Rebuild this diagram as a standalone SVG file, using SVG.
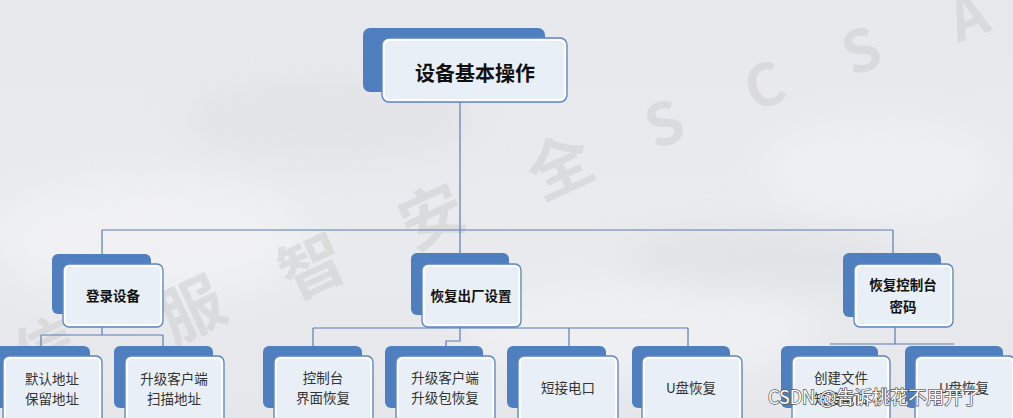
<svg xmlns="http://www.w3.org/2000/svg" width="1013" height="418" viewBox="0 0 1013 418">
  <defs>
    <linearGradient id="bg" x1="0" y1="0" x2="0" y2="1">
      <stop offset="0" stop-color="#e7e8eb"/>
      <stop offset="0.5" stop-color="#eaebee"/>
      <stop offset="1" stop-color="#e5e7ea"/>
    </linearGradient>
    <filter id="blur" x="-50%" y="-50%" width="200%" height="200%">
      <feGaussianBlur stdDeviation="18"/>
    </filter>
    <style>
      .back { fill: #4f7fbf; }
      .front { fill: #e9eff7; stroke: #5b85c2; stroke-width: 1.3; }
      .inner { fill: none; stroke: #ffffff; stroke-width: 2; opacity: 0.9; }
      .conn { fill: none; stroke: #5b7db5; stroke-width: 1.2; }
      .t0 { font-family: "Noto Sans CJK SC", "Noto Sans", sans-serif; font-size: 20px; font-weight: bold; fill: #111; text-anchor: middle; dominant-baseline: central; }
      .t1 { font-family: "Noto Sans CJK SC", "Noto Sans", sans-serif; font-size: 13.5px; font-weight: bold; fill: #111; text-anchor: middle; dominant-baseline: central; }
      .t2 { font-family: "Noto Sans CJK SC", "Noto Sans", sans-serif; font-size: 13.5px; fill: #333; text-anchor: middle; dominant-baseline: central; }
      .wm { font-family: "Noto Sans CJK SC", "Noto Sans", sans-serif; font-weight: bold; fill: #cfcfcf; opacity: 0.55; text-anchor: middle; dominant-baseline: central; }
      .csdn { font-family: "Noto Sans CJK SC", "Noto Sans", sans-serif; font-size: 18px; fill: #ffffff; stroke: #555; stroke-width: 1.4; paint-order: stroke; }
    </style>
  </defs>

  <!-- background -->
  <rect x="0" y="0" width="1013" height="418" fill="url(#bg)"/>
  <g filter="url(#blur)" opacity="0.6">
    <ellipse cx="150" cy="240" rx="160" ry="60" fill="#f5f5f7"/>
    <ellipse cx="640" cy="330" rx="180" ry="50" fill="#f3f4f6"/>
    <ellipse cx="880" cy="170" rx="120" ry="50" fill="#f2f3f6"/>
    <ellipse cx="330" cy="120" rx="150" ry="40" fill="#dfe0e4"/>
    <ellipse cx="760" cy="260" rx="140" ry="30" fill="#dcdee2"/>
  </g>

  <!-- watermark -->
  <g id="watermark">
    <text class="wm" font-size="64" transform="translate(45,345) rotate(-25)">信</text>
    <text class="wm" font-size="64" transform="translate(190,305) rotate(-25)">服</text>
    <text class="wm" font-size="64" transform="translate(310,262) rotate(-25)">智</text>
    <text class="wm" font-size="64" transform="translate(430,212) rotate(-25)">安</text>
    <text class="wm" font-size="64" transform="translate(558,162) rotate(-25)">全</text>
    <text class="wm" font-size="58" transform="translate(663,120) rotate(-20)">S</text>
    <text class="wm" font-size="58" transform="translate(763,82) rotate(-20)">C</text>
    <text class="wm" font-size="58" transform="translate(860,47) rotate(-20)">S</text>
    <text class="wm" font-size="58" transform="translate(967,13) rotate(-20)">A</text>
  </g>

  <!-- connectors -->
  <g id="connectors">
    <path class="conn" d="M460 102 V230 M102 230 H893 M102 230 V254 M460 230 V253 M893 230 V253"/>
    <path class="conn" d="M102 327 V335 M41 335 H163 M41 335 V346 M163 335 V346"/>
    <path class="conn" d="M460 327 V341 H446 V346 M313 328 H460 M313 328 V346 M460 328 H688 M569 328 V346 M688 328 V346"/>
    <path class="conn" d="M895 327 V344 M830 344 H954"/>
  </g>

  <!-- root -->
  <g id="n-root">
    <rect class="back" x="363" y="28" width="182" height="64" rx="7"/>
    <rect class="front" x="382" y="38" width="185" height="64" rx="7"/>
    <rect class="inner" x="384" y="40" width="181" height="60" rx="6"/>
    <text class="t0" x="475" y="72">设备基本操作</text>
  </g>

  <!-- level 1 -->
  <g id="n-login">
    <rect class="back" x="52" y="254" width="99" height="60" rx="6"/>
    <rect class="front" x="63" y="264" width="100" height="63" rx="6"/>
    <rect class="inner" x="65" y="266" width="96" height="59" rx="5"/>
    <text class="t1" x="113" y="295">登录设备</text>
  </g>
  <g id="n-factory">
    <rect class="back" x="411" y="253" width="98" height="62" rx="6"/>
    <rect class="front" x="422" y="264" width="99" height="63" rx="6"/>
    <rect class="inner" x="424" y="266" width="95" height="59" rx="5"/>
    <text class="t1" x="471" y="295">恢复出厂设置</text>
  </g>
  <g id="n-console-pwd">
    <rect class="back" x="843" y="253" width="98" height="64" rx="6"/>
    <rect class="front" x="854" y="264" width="99" height="63" rx="6"/>
    <rect class="inner" x="856" y="266" width="95" height="59" rx="5"/>
    <text class="t1" x="903" y="284" font-size="14">恢复控制台</text>
    <text class="t1" x="903" y="306" font-size="14">密码</text>
  </g>

  <!-- level 2 -->
  <g id="n-default-addr">
    <rect class="back" x="-9" y="346" width="99" height="62" rx="6"/>
    <rect class="front" x="3" y="356" width="99" height="68" rx="6"/>
    <rect class="inner" x="5" y="358" width="95" height="64" rx="5"/>
    <text class="t2" x="52" y="378">默认地址</text>
    <text class="t2" x="52" y="398">保留地址</text>
  </g>
  <g id="n-scan-addr">
    <rect class="back" x="114" y="346" width="99" height="62" rx="6"/>
    <rect class="front" x="125" y="356" width="99" height="68" rx="6"/>
    <rect class="inner" x="127" y="358" width="95" height="64" rx="5"/>
    <text class="t2" x="174" y="378">升级客户端</text>
    <text class="t2" x="174" y="398">扫描地址</text>
  </g>
  <g id="n-console-reset">
    <rect class="back" x="263" y="346" width="99" height="62" rx="6"/>
    <rect class="front" x="274" y="356" width="99" height="68" rx="6"/>
    <rect class="inner" x="276" y="358" width="95" height="64" rx="5"/>
    <text class="t2" x="323" y="377">控制台</text>
    <text class="t2" x="323" y="397">界面恢复</text>
  </g>
  <g id="n-pkg-reset">
    <rect class="back" x="385" y="346" width="98" height="62" rx="6"/>
    <rect class="front" x="396" y="356" width="99" height="68" rx="6"/>
    <rect class="inner" x="398" y="358" width="95" height="64" rx="5"/>
    <text class="t2" x="445" y="377">升级客户端</text>
    <text class="t2" x="445" y="397">升级包恢复</text>
  </g>
  <g id="n-short-port">
    <rect class="back" x="507" y="346" width="99" height="62" rx="6"/>
    <rect class="front" x="518" y="356" width="100" height="68" rx="6"/>
    <rect class="inner" x="520" y="358" width="96" height="64" rx="5"/>
    <text class="t2" x="568" y="387">短接电口</text>
  </g>
  <g id="n-usb-reset">
    <rect class="back" x="632" y="346" width="98" height="62" rx="6"/>
    <rect class="front" x="642" y="356" width="100" height="68" rx="6"/>
    <rect class="inner" x="644" y="358" width="96" height="64" rx="5"/>
    <text class="t2" x="691" y="387">U盘恢复</text>
  </g>
  <g id="n-create-file">
    <rect class="back" x="781" y="346" width="97" height="62" rx="6"/>
    <rect class="front" x="792" y="356" width="98" height="68" rx="6"/>
    <rect class="inner" x="794" y="358" width="94" height="64" rx="5"/>
    <text class="t2" x="841" y="377">创建文件</text>
    <text class="t2" x="841" y="398">短接电口</text>
  </g>
  <g id="n-usb-reset-2">
    <rect class="back" x="905" y="346" width="98" height="62" rx="6"/>
    <rect class="front" x="915" y="356" width="100" height="68" rx="6"/>
    <rect class="inner" x="917" y="358" width="96" height="64" rx="5"/>
    <text class="t2" x="964" y="387">U盘恢复</text>
  </g>

  <!-- CSDN watermark -->
  <text class="csdn" x="768" y="404">CSDN @告诉桃花不用开了</text>
</svg>
